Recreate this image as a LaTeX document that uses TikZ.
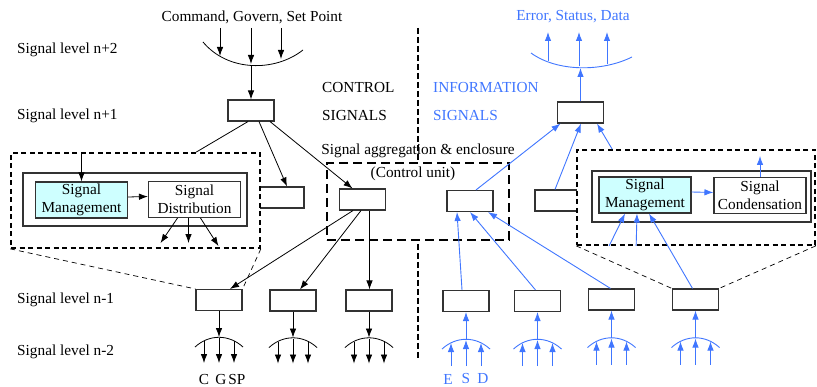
\documentclass[tikz,border=0pt]{standalone}
\usepackage{fontspec}
\setmainfont{Liberation Serif}
\newfontfamily\timesfont{Liberation Serif}
\usetikzlibrary{arrows.meta,positioning}
\definecolor{infoblue}{RGB}{64,118,255}
\definecolor{mgmtcyan}{RGB}{206,255,255}

\begin{document}
\begin{tikzpicture}[x=1pt,y=-1pt,>={Latex[length=9pt,width=6.5pt]},
  font=\timesfont\fontsize{15.3}{18.5}\selectfont,
  lvl/.style={anchor=west,inner sep=0pt},
  sigbox/.style={draw=black!80,line width=1.1pt,fill=white,minimum width=46pt,minimum height=21pt,inner sep=0pt},
  funcbox/.style={draw=black!80,line width=1.1pt,align=center,inner sep=0pt,minimum width=92pt,minimum height=36pt},
  holder/.style={draw=black!80,line width=1.1pt,inner sep=0pt},
  zoomframe/.style={draw,line width=1.7pt,dash pattern=on 5pt off 3.5pt,fill=white,inner sep=0pt},
  zoomline/.style={line width=0.7pt,dash pattern=on 5pt off 4pt},
  unitframe/.style={draw,line width=2.8pt,dash pattern=on 9pt off 5pt,fill=white,inner sep=0pt},
  divider/.style={line width=1.8pt,dash pattern=on 6pt off 3pt},
  ctl/.style={line width=0.8pt},
  inf/.style={line width=0.9pt,infoblue}]

\useasboundingbox (0,0) rectangle (817,387);

% level labels
\node[lvl] (ln2) at (17,50) {Signal level n+2};
\node[lvl] (ln1) at (17,116) {Signal level n+1};
\node[lvl] (lm1) at (17,300) {Signal level n-1};
\node[lvl] (lm2) at (17,352) {Signal level n-2};

% divider and control unit
\draw[divider] (418,28) -- (418,358);
\node[unitframe,minimum width=182pt,minimum height=77pt] (cu) at (418,201.5) {};
\node (agg) at (418,151) {Signal aggregation \& enclosure};
\node (cun) at (413,174) {(Control unit)};

\node[lvl] (ctltxt) at (322,88) {CONTROL};
\node[lvl] (ctlsig) at (322,116) {SIGNALS};
\node[lvl,infoblue] (inftxt) at (433,88) {INFORMATION};
\node[lvl,infoblue] (infsig) at (433,116) {SIGNALS};

%%% control side
\node (cmd) at (252,17) {Command, Govern, Set Point};
\draw[ctl] (203,42) .. controls (228,72) and (275,72) .. (303,50);
\foreach \x/\y in {220/56,251/64,281/59} \draw[ctl,->] (\x,28) -- (\x,\y);
\node[sigbox] (cn1) at (251,110.5) {};
\draw[ctl,->] (251,66) -- (cn1);

\node[sigbox] (cbx1) at (281,197.5) {};
\node[zoomframe,minimum width=249pt,minimum height=95pt] (lzoom) at (135.5,200.5) {};
\node[holder,minimum width=224pt,minimum height=53pt] (linner) at (135,199.5) {};
\node[funcbox,fill=mgmtcyan] (lmgmt) at (81.5,200) {Signal\\Management};
\node[funcbox] (ldist) at (194.5,199.5) {Signal\\Distribution};
\draw[ctl,->] (lmgmt.north |- lzoom.north) -- (lmgmt.north);
\draw[ctl,->] ([yshift=3pt]lmgmt.east) -- ([yshift=3pt]ldist.west);
\draw[ctl,->] ([xshift=-17pt]ldist.south) -- ++(-17,25);
\draw[ctl,->] ([xshift=-6pt]ldist.south) -- ++(0,25);
\draw[ctl,->] ([xshift=6pt]ldist.south) -- ++(18,28);

\node[sigbox] (cu1) at (362.5,199.5) {};
\node[sigbox] (ca) at (219,300) {};
\node[sigbox] (cb) at (293,300.5) {};
\node[sigbox] (cc) at (369,300.5) {};

\draw[ctl] ([xshift=-3pt]cn1.south) -- ([xshift=186pt]lzoom.north west);
\draw[ctl,->] ([xshift=8pt]cn1.south) -- ([xshift=6pt]cbx1.north);
\draw[ctl,->] ([xshift=19pt]cn1.south) -- ([xshift=-10pt]cu1.north);
\draw[ctl,->] ([xshift=-9.5pt]cu1.south) -- ([xshift=11pt]ca.north);
\draw[ctl,->] ([xshift=-1.5pt]cu1.south) -- ([xshift=7pt]cb.north);
\draw[ctl,->] ([xshift=7pt]cu1.south) -- ([xshift=0.5pt]cc.north);

\draw[zoomline] (lzoom.south west) -- (ca.north west);
\draw[zoomline] (lzoom.south east) -- (ca.north east);

\foreach \bx in {ca,cb,cc}{
  \draw[ctl,->] (\bx.south) -- ++(0,26) coordinate (\bx top);
  \draw[ctl] ([shift={(-24,10)}]\bx top) .. controls ([shift={(-10,-3)}]\bx top) and ([shift={(10,-3)}]\bx top) .. ([shift={(24,10)}]\bx top);
  \foreach \dx/\dy in {-15/4,0/1,15/4}
    \draw[ctl,->] ([shift={(\dx,\dy)}]\bx top) -- ([shift={(\dx,26)}]\bx top);
}
\node (lc) at (204,380) {C};
\node (lg) at (221,380) {G};
\node (lsp) at (237,380) {SP};

%%% information side
\node[infoblue] (err) at (573,17) {Error, Status, Data};
\draw[inf] (531,53) .. controls (557,72) and (602,72) .. (632,57);
\foreach \x/\y in {548/61,579/66,607/64} \draw[inf,->] (\x,\y) -- (\x,32);
\node[sigbox] (in1) at (580.5,112.5) {};
\draw[inf,->] (in1.north) -- (580.5,68);

\node[sigbox] (ibx3) at (558,200.5) {};
\node[zoomframe,minimum width=238pt,minimum height=95pt] (rzoom) at (696,197.5) {};
\node[holder,minimum width=219pt,minimum height=51pt] (rinner) at (701.5,196.5) {};
\node[funcbox,fill=mgmtcyan] (rmgmt) at (645,195) {Signal\\Management};
\node[funcbox] (rcond) at (760,195.5) {Signal\\Condensation};
\draw[inf,->] ([yshift=3pt]rmgmt.east) -- ([yshift=3pt]rcond.west);
\draw[inf,->] (rcond.north) -- ++(0,-21);

\node[sigbox] (cu2) at (470,201) {};
\node[sigbox] (ia) at (466,301) {};
\node[sigbox] (ib) at (537.5,301) {};
\node[sigbox] (ic) at (611.5,299.5) {};
\node[sigbox] (id) at (695.5,299.5) {};

\draw[inf,->] ([xshift=-4pt]ia.north) -- ([xshift=-13pt]cu2.south);
\draw[inf,->] ([xshift=-2pt]ib.north) -- (cu2.south);
\draw[inf,->] ([xshift=-1pt]ic.north) -- ([xshift=18pt]cu2.south);
\draw[inf,->] ([xshift=-3pt]id.north) -- ([xshift=4pt]rmgmt.south);
\draw[inf,->] ([xshift=6pt]cu2.north) -- ([xshift=-20pt]in1.south);
\draw[inf,->] ([xshift=-3pt]ibx3.north) -- ([xshift=0.5pt]in1.south);
\draw[inf,->] ([xshift=36pt]rzoom.north west) -- ([xshift=16.5pt]in1.south);
\draw[inf,->] ([xshift=33pt]rzoom.south west) -- ([xshift=-20pt]rmgmt.south);
\draw[inf,->] ([xshift=60pt]rzoom.south west) -- ([xshift=-8pt]rmgmt.south);

\draw[zoomline] (rzoom.south west) -- (id.north west);
\draw[zoomline] (rzoom.south east) -- (id.north east);

\foreach \bx in {ia,ib,ic,id}{
  \coordinate (\bx top) at ([yshift=-27pt]\bx.south);
  \draw[inf,->] (\bx top) -- (\bx.south);
  \draw[inf] ([shift={(-24,10)}]\bx top) .. controls ([shift={(-10,-3)}]\bx top) and ([shift={(10,-3)}]\bx top) .. ([shift={(24,10)}]\bx top);
  \foreach \dx/\dy in {-15/4,0/1,15/4}
    \draw[inf,->] ([shift={(\dx,27)}]\bx top) -- ([shift={(\dx,\dy)}]\bx top);
}
\node[infoblue] (le) at (448,379) {E};
\node[infoblue] (ls) at (466,379) {S};
\node[infoblue] (ld) at (483,379) {D};
\end{tikzpicture}
\end{document}
